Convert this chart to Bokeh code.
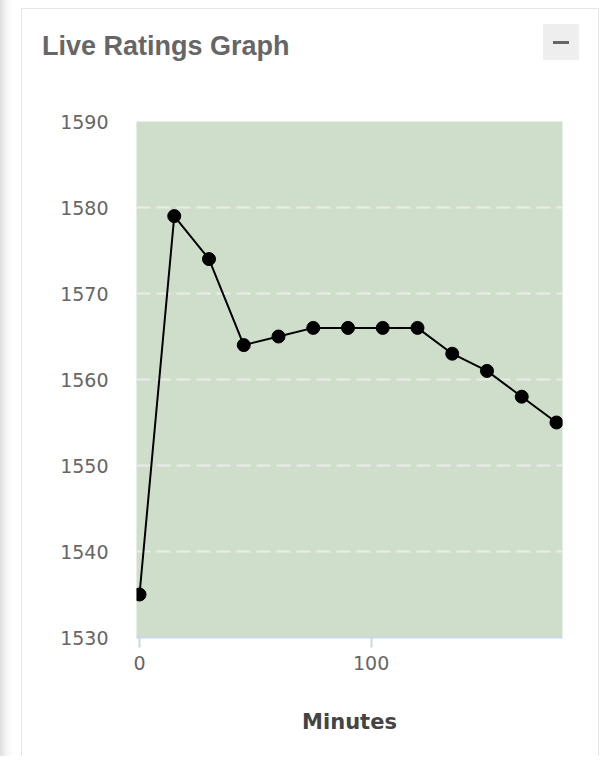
from bokeh.plotting import figure
from bokeh.models import Range1d, FixedTicker, Div
from bokeh.layouts import row, column
from bokeh.embed import file_html
from bokeh.resources import INLINE

minutes = [0, 15, 30, 45, 60, 75, 90, 105, 120, 135, 150, 165, 180]
ratings = [1535, 1579, 1574, 1564, 1565, 1566, 1566, 1566, 1566, 1563, 1561, 1558, 1555]
y_ticks = [1530, 1540, 1550, 1560, 1570, 1580, 1590]
x_ticks = [0, 100]
title_text = "Live Ratings Graph"
x_label = "Minutes"

H = 756
HEADER_H = 105
INNER_W = 576

p = figure(width=INNER_W, height=H - HEADER_H, output_backend="svg", toolbar_location=None,
           x_range=Range1d(-1.3, 182.6), y_range=Range1d(1530, 1590),
           min_border_left=114, min_border_right=36,
           min_border_top=16, min_border_bottom=H - 637)
p.background_fill_color = "#cedecb"
p.border_fill_color = "white"
p.outline_line_color = None

p.xgrid.visible = False
p.ygrid.ticker = FixedTicker(ticks=y_ticks[1:])
p.ygrid.grid_line_color = "#ebebeb"
p.ygrid.grid_line_width = 2
p.ygrid.grid_line_dash = "14 6"

p.yaxis.ticker = FixedTicker(ticks=y_ticks)
p.yaxis.axis_line_color = None
p.yaxis.major_tick_line_color = None
p.yaxis.minor_tick_line_color = None
p.yaxis.major_tick_out = 0
p.yaxis.major_tick_in = 0
p.yaxis.major_label_standoff = 28
p.yaxis.major_label_text_font = "DejaVu Sans"
p.yaxis.major_label_text_font_size = "19px"
p.yaxis.major_label_text_color = "#666666"

p.xaxis.ticker = FixedTicker(ticks=x_ticks)
p.xaxis.axis_line_color = "#ccd6eb"
p.xaxis.axis_line_width = 2
p.xaxis.major_tick_line_color = "#ccd6eb"
p.xaxis.major_tick_line_width = 2
p.xaxis.major_tick_out = 10
p.xaxis.major_tick_in = 0
p.xaxis.minor_tick_line_color = None
p.xaxis.major_label_standoff = 8
p.xaxis.major_label_text_font = "DejaVu Sans"
p.xaxis.major_label_text_font_size = "19px"
p.xaxis.major_label_text_color = "#666666"
p.xaxis.axis_label = x_label
p.xaxis.axis_label_text_font = "DejaVu Sans"
p.xaxis.axis_label_text_font_style = "bold"
p.xaxis.axis_label_text_font_size = "21px"
p.xaxis.axis_label_text_color = "#444444"
p.xaxis.axis_label_standoff = 37

p.line(minutes, ratings, line_color="black", line_width=2)
p.scatter(minutes, ratings, size=13, fill_color="black", line_color="black")

header_html = (
    '<div style="position:relative; width:%dpx; height:%dpx; margin:0; padding:0;">'
    '<div style="position:absolute; left:0; top:8px; width:%dpx; height:1px; background:#e6e6e6;"></div>'
    '<div style="position:absolute; left:20px; top:33px; font-family:\'Liberation Sans\', Arial, sans-serif;'
    ' font-weight:bold; font-size:27px; line-height:27px; color:#666666; white-space:nowrap;">%s</div>'
    '<div style="position:absolute; left:521px; top:24px; width:36px; height:36px; background:#eeeeee;"></div>'
    '<div style="position:absolute; left:531px; top:41px; width:16px; height:3px; background:#666666;"></div>'
    '<div style="position:absolute; left:114px; top:%dpx; width:426px; height:0; border-top:2px dashed #dddddd;"></div>'
    '</div>'
) % (INNER_W, HEADER_H, INNER_W, title_text, HEADER_H + 20)

header = Div(text=header_html, width=INNER_W, height=HEADER_H, margin=0)
shadow = Div(text="", width=21, height=H, margin=0,
             styles={"background": "linear-gradient(to right, #dddddd 0px, #f4f4f4 6px, #ffffff 13px, #ffffff 21px)"})
border_l = Div(text="", width=1, height=H, margin=0,
               styles={"background": "linear-gradient(to bottom, #ffffff 0px, #ffffff 8px, #e6e6e6 8px, #e6e6e6 100%)"})
border_r = Div(text="", width=1, height=H, margin=0,
               styles={"background": "linear-gradient(to bottom, #ffffff 0px, #ffffff 8px, #e6e6e6 8px, #e6e6e6 100%)"})

layout = row(shadow, border_l, column(header, p, spacing=0), border_r, spacing=0)

open("out.html", "w").write(file_html(layout, INLINE))
